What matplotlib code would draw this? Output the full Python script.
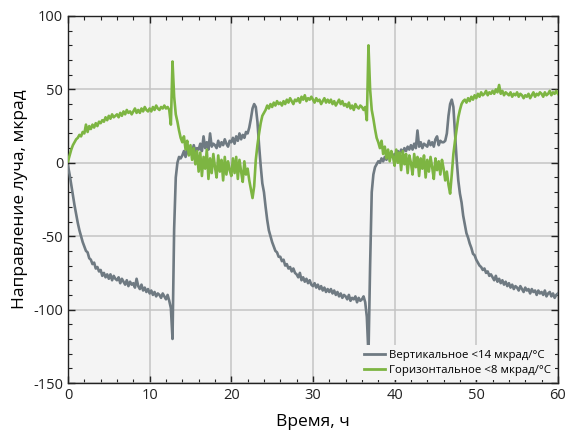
"""Beam direction drift vs time (vertical and horizontal)."""

import matplotlib

matplotlib.use("Agg")
import matplotlib.pyplot as plt
import numpy as np
from matplotlib.ticker import MultipleLocator

# sampling step of the readings, hours
T_STEP = 0.2

# vertical beam direction, microrad, one value per T_STEP from 0 h to 60 h
vertical = [
    -2, -8, -15, -22, -29, -35, -41, -46, -50, -54,
    -57, -60, -61, -65, -66, -69, -68, -72, -71, -74,
    -73, -77, -75, -78, -76, -79, -76, -80, -77, -79,
    -80, -78, -82, -79, -81, -83, -80, -84, -81, -83,
    -82, -85, -79, -84, -86, -83, -87, -85, -88, -86,
    -89, -87, -90, -88, -91, -89, -90, -92, -89, -91,
    -93, -90, -94, -99, -120, -45, -10, 0, 4, 3,
    5, 8, 4, 9, 6, 10, 7, 12, 8, 10,
    9, 13, 8, 18, 10, 14, 9, 20, 11, 13,
    12, 10, 15, 11, 14, 12, 16, 13, 11, 15,
    14, 17, 13, 18, 15, 20, 16, 19, 17, 21,
    20, 24, 30, 37, 40, 38, 28, 12, -2, -14,
    -20, -30, -39, -46, -50, -54, -57, -60, -61, -64,
    -64, -67, -66, -70, -69, -72, -71, -74, -72, -75,
    -76, -78, -75, -80, -78, -81, -79, -82, -80, -83,
    -84, -82, -85, -83, -86, -84, -87, -85, -88, -86,
    -88, -86, -89, -87, -90, -88, -91, -89, -92, -90,
    -91, -93, -90, -94, -92, -93, -91, -95, -92, -94,
    -93, -91, -95, -105, -131, -70, -20, -8, -3, -1,
    1, 0, 3, 1, 4, 2, 5, 3, 6, 4,
    6, 4, 8, 5, 9, 7, 10, 8, 11, 9,
    12, 9, 13, 10, 22, 11, 14, 10, 13, 12,
    11, 15, 12, 14, 11, 16, 18, 12, 15, 14,
    14, 15, 20, 32, 40, 43, 38, 20, 2, -12,
    -21, -27, -36, -42, -48, -51, -55, -58, -62, -63,
    -66, -68, -70, -71, -73, -72, -75, -74, -77, -76,
    -78, -80, -77, -81, -79, -82, -80, -83, -81, -84,
    -82, -85, -83, -86, -84, -85, -87, -84, -86, -88,
    -85, -87, -86, -89, -86, -88, -87, -90, -87, -89,
    -88, -90, -87, -91, -89, -88, -91, -89, -92, -90,
    -89,
]

# horizontal beam direction, microrad, same sampling
horizontal = [
    1, 5, 9, 12, 14, 16, 17, 19, 18, 21,
    20, 26, 21, 25, 23, 26, 24, 27, 25, 28,
    27, 29, 28, 31, 29, 32, 30, 33, 31, 32,
    33, 31, 34, 32, 35, 33, 36, 34, 35, 33,
    35, 37, 34, 36, 34, 37, 35, 38, 36, 35,
    37, 35, 38, 36, 39, 37, 36, 38, 37, 39,
    37, 38, 36, 26, 69, 45, 33, 28, 22, 17,
    14, 18, 9, 15, 5, 12, 2, 10, -1, 8,
    -6, 7, -9, 4, -4, 9, -11, 3, -7, 6,
    -3, -10, 5, -6, 2, -12, 4, -8, 1, -5,
    -9, 3, -7, 4, -11, 2, -6, -13, 1, -8,
    -4, -12, -18, -24, -16, 2, 12, 20, 27, 32,
    34, 36, 39, 37, 40, 38, 41, 39, 42, 40,
    41, 39, 42, 40, 43, 41, 44, 42, 40, 43,
    42, 44, 41, 45, 43, 46, 42, 44, 43, 45,
    43, 41, 44, 42, 43, 40, 42, 44, 41, 43,
    41, 43, 40, 42, 39, 41, 43, 40, 42, 39,
    40, 38, 41, 37, 39, 36, 40, 38, 37, 39,
    38, 36, 38, 29, 80, 50, 36, 30, 23, 17,
    14, 10, 15, 6, 11, 3, 9, 1, 8, 4,
    -2, 9, 0, 7, -5, 8, -1, 6, -7, 5,
    0, -8, 6, -3, 4, -9, 3, -4, 5, -10,
    2, -6, 4, -3, -11, 3, -5, 1, -8, 2,
    -4, -12, -6, -15, -21, -8, 6, 15, 23, 31,
    36, 40, 42, 43, 41, 44, 42, 45, 43, 46,
    44, 47, 45, 48, 46, 47, 49, 46, 48, 47,
    49, 47, 50, 48, 53, 47, 49, 46, 48, 47,
    46, 48, 45, 47, 46, 48, 45, 47, 46, 44,
    46, 45, 47, 44, 46, 48, 45, 47, 46, 48,
    47, 45, 48, 46, 47, 49, 46, 48, 47, 49,
    47,
]

labels = ["Вертикальное <14 мкрад/°C", "Горизонтальное <8 мкрад/°C"]
colors = ["#6f7a82", "#7db542"]

plt.rcParams["font.family"] = ["Open Sans", "DejaVu Sans"]
plt.rcParams["axes.unicode_minus"] = False

fig = plt.figure(figsize=(5.69, 4.32), dpi=100)
ax = fig.add_axes([0.1195, 0.1134, 0.861, 0.8496])
ax.set_facecolor("#f4f4f4")

t = np.arange(len(vertical)) * T_STEP
ax.plot(t, vertical, color=colors[0], lw=1.9, label=labels[0], zorder=3)
ax.plot(t, horizontal, color=colors[1], lw=1.9, label=labels[1], zorder=4)

ax.set_xlim(0, 60)
ax.set_ylim(-150, 100)
ax.xaxis.set_major_locator(MultipleLocator(10))
ax.xaxis.set_minor_locator(MultipleLocator(2))
ax.yaxis.set_major_locator(MultipleLocator(50))
ax.yaxis.set_minor_locator(MultipleLocator(10))
ax.tick_params(which="both", direction="in", top=True, right=True,
               labelsize=10.5, colors="#222222")
ax.tick_params(which="major", length=5, width=1)
ax.tick_params(which="minor", length=3, width=0.8)
ax.grid(True, which="major", color="#c4c4c4", lw=1.1, zorder=1)
for s in ax.spines.values():
    s.set_color("#222222")
    s.set_linewidth(1)

ax.set_xlabel("Время, ч", fontsize=12.5, labelpad=8)
ax.set_ylabel("Направление луча, мкрад", fontsize=12.5, labelpad=4)

leg = ax.legend(loc="lower right", fontsize=8.2, handlelength=1.9,
                handletextpad=0.3, labelspacing=0.35, borderaxespad=0.25,
                facecolor="#f4f4f4", edgecolor="none", framealpha=1,
                fancybox=False)
leg.set_zorder(5)
for line in leg.get_lines():
    line.set_linewidth(2)

fig.savefig("out.png", dpi=100)
plt.close(fig)
